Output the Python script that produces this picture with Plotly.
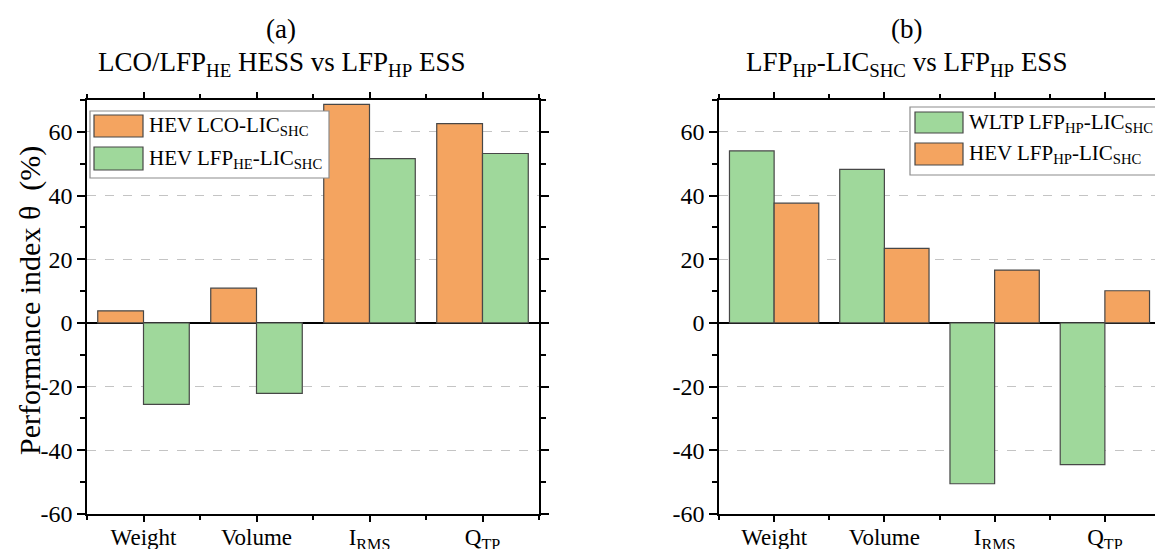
import plotly.graph_objects as go

# ---------------- data ----------------
categories = ["Weight", "Volume", "I<sub>RMS</sub>", "Q<sub>TP</sub>"]

# panel (a)
a_hev_lco = [3.8, 10.9, 68.6, 62.6]
a_hev_lfphe = [-25.6, -22.1, 51.6, 53.2]

# panel (b)
b_wltp_lfphp = [54.0, 48.2, -50.5, -44.5]
b_hev_lfphp = [37.6, 23.4, 16.6, 10.1]

y_ticks = [-60, -40, -20, 0, 20, 40, 60]
y_ticktext = ["-60", "-40", "-20", "0", "20", "40", "60"]

name_a1 = "HEV LCO-LIC<sub>SHC</sub>"
name_a2 = "HEV LFP<sub>HE</sub>-LIC<sub>SHC</sub>"
name_b1 = "WLTP LFP<sub>HP</sub>-LIC<sub>SHC</sub>"
name_b2 = "HEV LFP<sub>HP</sub>-LIC<sub>SHC</sub>"

ORANGE = "#F4A460"
GREEN = "#9FD89B"
EDGE = "#474747"
FONT = "Liberation Serif"

OFF = 8  # page body margin
W, H = 1163 - OFF, 549 - OFF


def px(x):
    return (x - OFF) / W


def py(y):
    return 1 - (y - OFF) / H


xpos = list(range(len(categories)))

fig = go.Figure()
fig.add_trace(go.Bar(x=xpos, y=a_hev_lco, name=name_a1, marker=dict(color=ORANGE, line=dict(color=EDGE, width=1.2)),
                     xaxis="x", yaxis="y", showlegend=False))
fig.add_trace(go.Bar(x=xpos, y=a_hev_lfphe, name=name_a2, marker=dict(color=GREEN, line=dict(color=EDGE, width=1.2)),
                     xaxis="x", yaxis="y", showlegend=False))
fig.add_trace(go.Bar(x=xpos, y=b_wltp_lfphp, name=name_b1, marker=dict(color=GREEN, line=dict(color=EDGE, width=1.2)),
                     xaxis="x2", yaxis="y2", showlegend=False))
fig.add_trace(go.Bar(x=xpos, y=b_hev_lfphp, name=name_b2, marker=dict(color=ORANGE, line=dict(color=EDGE, width=1.2)),
                     xaxis="x2", yaxis="y2", showlegend=False))

xcommon = dict(
    range=[-0.5, len(categories) - 0.5],
    tickmode="array", tickvals=xpos, ticktext=categories,
    ticks="outside", ticklen=6, tickwidth=1.5, tickcolor="black",
    minor=dict(ticks="outside", ticklen=4, tickwidth=1.5, tickcolor="black", tick0=0.5, dtick=1, showgrid=False),
    showline=True, linecolor="black", linewidth=1.5, mirror="ticks",
    showgrid=False, zeroline=False,
    tickfont=dict(family=FONT, size=23, color="black"),
    ticklabelstandoff=-4,
    automargin=False, fixedrange=True,
)
ycommon = dict(
    range=[-60, 70],
    tickmode="array", tickvals=y_ticks, ticktext=y_ticktext,
    ticks="outside", ticklen=8, tickwidth=1.5, tickcolor="black",
    minor=dict(ticks="outside", ticklen=5, tickwidth=1.5, tickcolor="black", tick0=0, dtick=10, showgrid=False),
    showline=True, linecolor="black", linewidth=1.5, mirror="ticks",
    showgrid=True, gridcolor="#c4c4c4", griddash="dash", gridwidth=1,
    zeroline=True, zerolinecolor="black", zerolinewidth=1.8,
    tickfont=dict(family=FONT, size=24, color="black"),
    automargin=False, fixedrange=True,
)

ydom = [py(514), py(100)]
fig.update_layout(
    width=W, height=H,
    margin=dict(l=0, r=0, t=0, b=0),
    paper_bgcolor="white", plot_bgcolor="white",
    barmode="group", bargap=0.19, bargroupgap=0,
    font=dict(family=FONT, color="black"),
    xaxis=dict(domain=[px(87), px(539)], anchor="y", **xcommon),
    yaxis=dict(domain=ydom, anchor="x", **ycommon),
    xaxis2=dict(domain=[px(719), px(1160)], anchor="y2", **xcommon),
    yaxis2=dict(domain=ydom, anchor="x2", **ycommon),
)

annotations = []
shapes = []

# titles
for cx, lab, title in [(281, "(a)", "LCO/LFP<sub>HE</sub> HESS vs LFP<sub>HP</sub> ESS"),
                       (906, "(b)", "LFP<sub>HP</sub>-LIC<sub>SHC</sub> vs LFP<sub>HP</sub> ESS")]:
    annotations.append(dict(x=px(cx), y=py(29), xref="paper", yref="paper", text=lab, showarrow=False,
                            xanchor="center", yanchor="middle", font=dict(family=FONT, size=27, color="black")))
    annotations.append(dict(x=px(cx), y=py(64), xref="paper", yref="paper", text=title, showarrow=False,
                            xanchor="center", yanchor="middle", font=dict(family=FONT, size=27, color="black")))

# y-axis title
annotations.append(dict(x=px(30), y=py(301), xref="paper", yref="paper", text="Performance index θ  (%)",
                        textangle=-90, showarrow=False, xanchor="center", yanchor="middle",
                        font=dict(family=FONT, size=30, color="black")))


def legend(box, items):
    x0, x1, y0, y1 = box
    shapes.append(dict(type="rect", xref="paper", yref="paper", x0=px(x0), x1=px(x1), y0=py(y1), y1=py(y0),
                       fillcolor="white", line=dict(color="#8c8c8c", width=1.2), layer="above"))
    for (sx0, sx1, sy0, sy1, color, text) in items:
        shapes.append(dict(type="rect", xref="paper", yref="paper", x0=px(sx0), x1=px(sx1), y0=py(sy1), y1=py(sy0),
                           fillcolor=color, line=dict(color=EDGE, width=1.2), layer="above"))
        annotations.append(dict(x=px(sx1 + 4), y=py((sy0 + sy1) / 2), xref="paper", yref="paper", text=text,
                                showarrow=False, xanchor="left", yanchor="middle",
                                font=dict(family=FONT, size=21, color="black")))


legend((90, 329, 111, 178), [(94, 143, 115, 137, ORANGE, name_a1), (94, 143, 147, 170, GREEN, name_a2)])
legend((910, 1162, 107, 175), [(915, 963, 112, 133, GREEN, name_b1), (915, 963, 143, 165, ORANGE, name_b2)])

fig.update_layout(annotations=annotations, shapes=shapes)
fig.write_html("out.html")
